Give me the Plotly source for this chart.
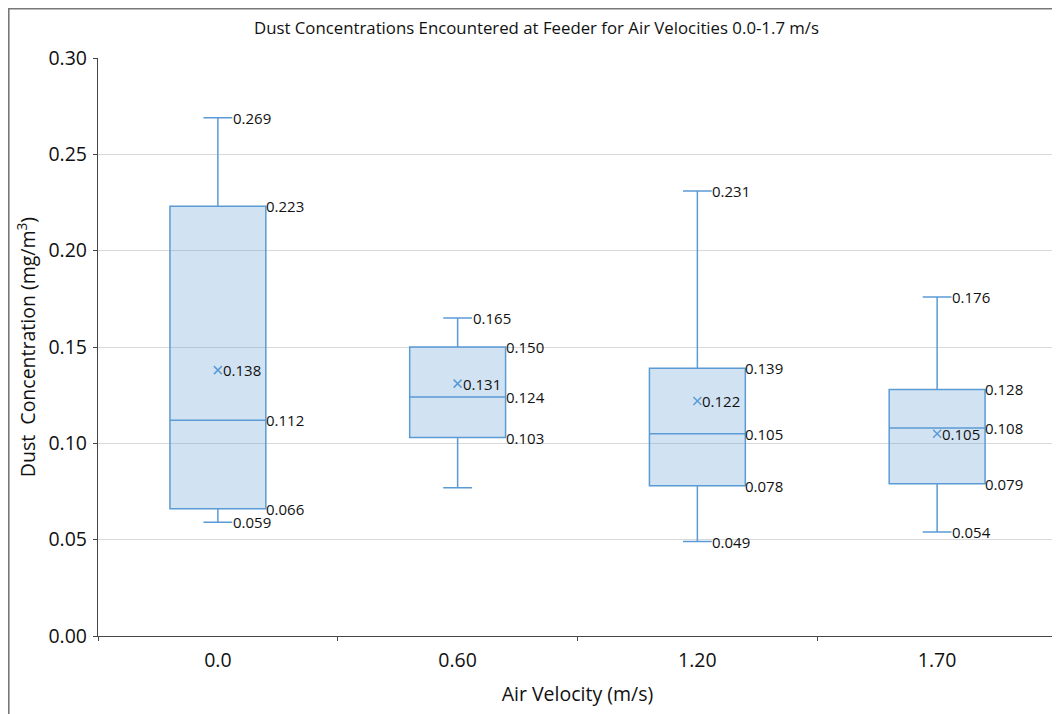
import plotly.graph_objects as go

categories = ["0.0", "0.60", "1.20", "1.70"]
lower = [0.059, 0.077, 0.049, 0.054]
q1 = [0.066, 0.103, 0.078, 0.079]
median = [0.112, 0.124, 0.105, 0.108]
q3 = [0.223, 0.150, 0.139, 0.128]
upper = [0.269, 0.165, 0.231, 0.176]
means = [0.138, 0.131, 0.122, 0.105]
label_lower = [True, False, True, True]

FONT = "Open Sans"
BLUE = "rgb(91,155,213)"
TXT = "#111"

W, H = 1052, 706
ML, MR, MT, MB = 90, 3, 50, 78
PW, PH = W - ML - MR, H - MT - MB

fig = go.Figure()
fig.add_trace(go.Box(
    x=categories, q1=q1, median=median, q3=q3,
    lowerfence=lower, upperfence=upper,
    boxpoints=False, width=0.4, whiskerwidth=0.3,
    line=dict(color=BLUE, width=1.5),
    fillcolor="rgba(91,155,213,0.28)",
    hoverinfo="skip", showlegend=False,
))
fig.add_trace(go.Scatter(
    x=categories, y=means, mode="markers",
    marker=dict(symbol="x-thin", size=8, line=dict(color=BLUE, width=1.5)),
    hoverinfo="skip", showlegend=False,
))

ann = []
def lab(i, y, shift):
    ann.append(dict(x=i, y=y, xref="x", yref="y", text=f"{y:.3f}", showarrow=False,
                    xanchor="left", yanchor="middle", xshift=shift,
                    font=dict(family=FONT, size=15, color=TXT)))

for i, c in enumerate(categories):
    lab(i, upper[i], 13)
    if label_lower[i]:
        lab(i, lower[i], 13)
    lab(i, q1[i], 46)
    lab(i, median[i], 46)
    lab(i, q3[i], 46)
    lab(i, means[i], 3)

fig.update_layout(
    width=W, height=H,
    margin=dict(l=ML, r=MR, t=MT, b=MB, autoexpand=False),
    paper_bgcolor="white", plot_bgcolor="white",
    font=dict(family=FONT, color=TXT),
    title=dict(text="Dust Concentrations Encountered at Feeder for Air Velocities 0.0-1.7 m/s",
               x=528.5 / W, xanchor="center", xref="container", y=1 - 20 / H, yanchor="middle",
               font=dict(family=FONT, size=16.8, color=TXT)),
    annotations=ann,
    shapes=[dict(type="rect", xref="paper", yref="paper",
                 x0=(0.8 - ML) / PW, x1=1.02, y0=-0.2, y1=(PH + MT - 0.8) / PH,
                 line=dict(color="rgb(120,120,120)", width=1.6), layer="above")],
)
fig.update_yaxes(
    range=[0, 0.30], dtick=0.05, tickformat=".2f", automargin=False,
    showgrid=True, gridcolor="rgb(217,217,217)", gridwidth=1,
    showline=True, linecolor="rgb(70,70,70)", linewidth=1.2,
    ticks="outside", ticklen=4, tickcolor="rgb(70,70,70)",
    zeroline=False, ticklabelstandoff=2,
    tickfont=dict(family=FONT, size=19.5, color=TXT),
    title=dict(text="Dust  Concentration (mg/m<sup>3</sup>)", standoff=7,
               font=dict(family=FONT, size=19.5, color=TXT)),
)
fig.update_xaxes(
    type="category", tickson="boundaries", automargin=False, range=[-0.5, 3.5],
    showline=True, linecolor="rgb(70,70,70)", linewidth=1.2,
    ticks="outside", ticklen=4, tickcolor="rgb(70,70,70)",
    showgrid=False, ticklabelstandoff=6,
    tickfont=dict(family=FONT, size=19.5, color=TXT),
    title=dict(text="Air Velocity (m/s)", standoff=15,
               font=dict(family=FONT, size=19.5, color=TXT)),
)

fig.write_html("out.html")
